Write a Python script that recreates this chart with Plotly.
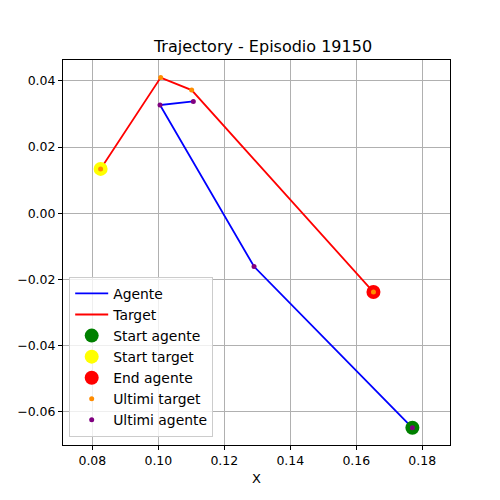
import plotly.graph_objects as go

# Trajectory data
agent_x = [0.1770, 0.1290, 0.1005, 0.1106]
agent_y = [-0.0648, -0.0161, 0.0327, 0.0338]
target_x = [0.0825, 0.1007, 0.1101, 0.1652]
target_y = [0.0134, 0.0410, 0.0372, -0.0238]
episode = 19150

fig = go.Figure()
fig.add_trace(go.Scatter(x=agent_x, y=agent_y, mode='lines', name='Agente',
                         line=dict(color='blue', width=1.8)))
fig.add_trace(go.Scatter(x=target_x, y=target_y, mode='lines', name='Target',
                         line=dict(color='red', width=1.8)))
fig.add_trace(go.Scatter(x=agent_x[:1], y=agent_y[:1], mode='markers', name='Start agente',
                         marker=dict(color='green', size=14)))
fig.add_trace(go.Scatter(x=target_x[:1], y=target_y[:1], mode='markers', name='Start target',
                         marker=dict(color='yellow', size=14)))
fig.add_trace(go.Scatter(x=target_x[-1:], y=target_y[-1:], mode='markers', name='End agente',
                         marker=dict(color='red', size=14)))
fig.add_trace(go.Scatter(x=target_x, y=target_y, mode='markers', name='Ultimi target',
                         marker=dict(color='darkorange', size=5)))
fig.add_trace(go.Scatter(x=agent_x, y=agent_y, mode='markers', name='Ultimi agente',
                         marker=dict(color='purple', size=5)))

axis_style = dict(showgrid=True, gridcolor='#b0b0b0', gridwidth=1, zeroline=False,
                  showline=True, linecolor='black', linewidth=1, mirror=True,
                  ticks='outside', ticklen=4, tickcolor='black', tickformat='.2f',
                  tickfont=dict(size=12.5, color='black'))

fig.update_layout(
    width=500, height=500,
    template='none',
    plot_bgcolor='white', paper_bgcolor='white',
    font=dict(family='DejaVu Sans', color='black'),
    margin=dict(l=55, r=58, t=52, b=63),
    title=dict(text=f'Trajectory - Episodio {episode}', x=0.51, xanchor='center',
               y=0.924, yanchor='middle', font=dict(size=16)),
    xaxis=dict(range=[0.0711, 0.1884], dtick=0.02, tick0=0.08,
               title=dict(text='X', font=dict(size=13), standoff=6), **axis_style),
    yaxis=dict(range=[-0.0700, 0.0463], dtick=0.02, tick0=0.0, **axis_style),
    legend=dict(x=0.016, y=0.021, xanchor='left', yanchor='bottom',
                bgcolor='rgba(255,255,255,0.8)', bordercolor='#cccccc', borderwidth=1,
                font=dict(size=13.9), tracegroupgap=0, itemwidth=33),
    showlegend=True,
)
fig.add_annotation(text='Y', xref='paper', yref='paper', x=0, y=0.5, xshift=-66,
                   showarrow=False, textangle=-90, font=dict(size=13), xanchor='center')

fig.write_html("out.html")
